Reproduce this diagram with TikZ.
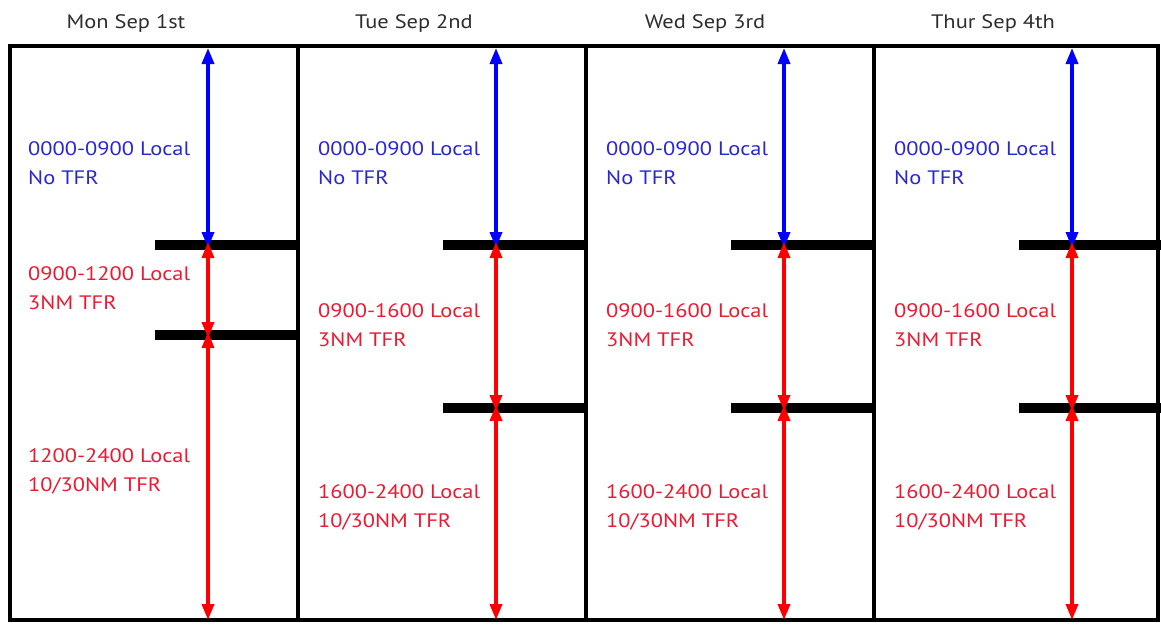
\documentclass[tikz,border=0pt]{standalone}
\usepackage{fontspec}
\setmainfont[FakeStretch=1.15]{PT Sans}
\usetikzlibrary{arrows.meta}
\definecolor{bluetxt}{RGB}{40,40,210}
\definecolor{redtxt}{RGB}{235,25,50}
\definecolor{hdr}{RGB}{45,45,45}
\tikzset{
  frame/.style={line width=4pt,black},
  bar/.style={line width=10pt,black},
  barr/.style={line width=3.5pt,blue,{Triangle[length=16pt,width=12pt]}-{Triangle[length=16pt,width=12pt]}},
  rarr/.style={line width=3.5pt,red,{Triangle[length=16pt,width=12pt]}-{Triangle[length=16pt,width=12pt]}},
  btxt/.style={anchor=base west,inner sep=0pt,text=bluetxt,font=\fontsize{19.5}{29}\selectfont,align=left},
  rtxt/.style={anchor=base west,inner sep=0pt,text=redtxt,font=\fontsize{19.5}{29}\selectfont,align=left},
  hd/.style={anchor=base,inner sep=0pt,text=hdr,font=\fontsize{19.5}{23}\selectfont},
}
\begin{document}
\begin{tikzpicture}[x=1pt,y=-1pt]
\useasboundingbox (0,0) rectangle (1161,624);
\fill[white] (0,0) rectangle (1161,624);
% frame
\draw[frame] (10,46) rectangle (1158,620);
\foreach \x in {298,586,874} \draw[frame] (\x,46) -- (\x,620);
% headers
\node[hd] (h1) at (126,28) {Mon Sep 1st};
\node[hd] (h2) at (414,28) {Tue Sep 2nd};
\node[hd] (h3) at (705,28) {Wed Sep 3rd};
\node[hd] (h4) at (993,28) {Thur Sep 4th};
% column 1
\coordinate (t1) at (208,48);
\coordinate (a1) at (208,245);
\coordinate (b1) at (208,335);
\coordinate (e1) at (208,620);
\draw[bar] (155,245) -- (298,245);
\draw[bar] (155,335) -- (298,335);
\draw[barr] (t1) -- ([yshift=-3pt]a1);
\draw[rarr] ([yshift=3pt]a1) -- ([yshift=-3pt]b1);
\draw[rarr] ([yshift=3pt]b1) -- (e1);
\node[btxt] (n1a) at (28,184) {0000-0900 Local\\No TFR};
\node[rtxt] (n1b) at (28,309) {0900-1200 Local\\3NM TFR};
\node[rtxt] (n1c) at (28,491) {1200-2400 Local\\10/30NM TFR};
% columns 2-4
\foreach \c/\L in {2/298,3/586,4/874}{
  \coordinate (t\c) at (\L+198,48);
  \coordinate (a\c) at (\L+198,245);
  \coordinate (b\c) at (\L+198,408);
  \coordinate (e\c) at (\L+198,620);
  \draw[bar] (\L+145,245) -- (\L+288,245);
  \draw[bar] (\L+145,408) -- (\L+288,408);
  \draw[barr] (t\c) -- ([yshift=-3pt]a\c);
  \draw[rarr] ([yshift=3pt]a\c) -- ([yshift=-3pt]b\c);
  \draw[rarr] ([yshift=3pt]b\c) -- (e\c);
  \node[btxt] (n\c a) at (\L+20,184) {0000-0900 Local\\No TFR};
  \node[rtxt] (n\c b) at (\L+20,346) {0900-1600 Local\\3NM TFR};
  \node[rtxt] (n\c c) at (\L+20,527) {1600-2400 Local\\10/30NM TFR};
}
\end{tikzpicture}
\end{document}
